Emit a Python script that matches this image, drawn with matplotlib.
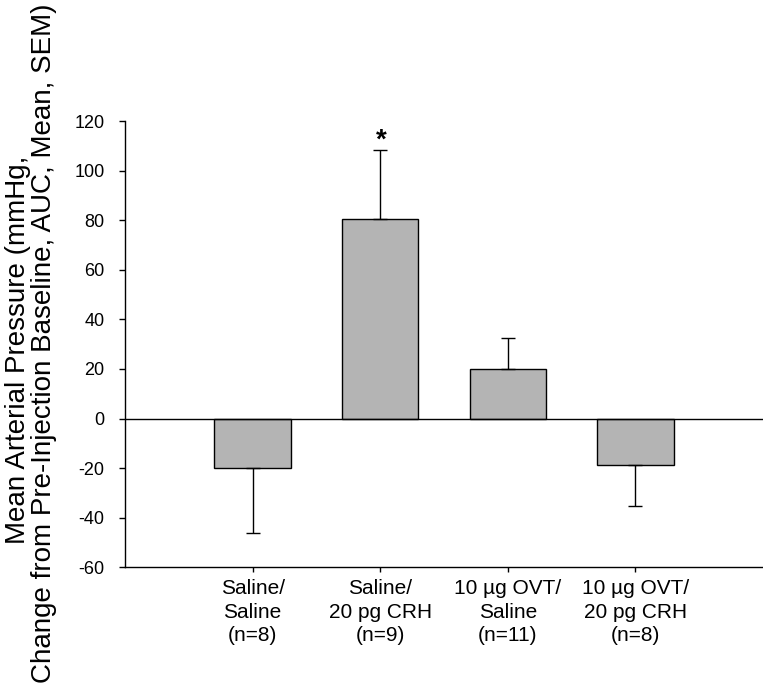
import numpy as np
import matplotlib
matplotlib.use("Agg")
import matplotlib.pyplot as plt

plt.rcParams['font.family'] = ['Liberation Sans', 'DejaVu Sans']

# Data
groups = ["Saline/\nSaline\n(n=8)", "Saline/\n20 pg CRH\n(n=9)",
          "10 \u00b5g OVT/\nSaline\n(n=11)", "10 \u00b5g OVT/\n20 pg CRH\n(n=8)"]
means = [-20.1, 80.3, 19.8, -18.8]
sems = [26.0, 28.2, 12.7, 16.4]
significant = [False, True, False, False]
yticks = [-60, -40, -20, 0, 20, 40, 60, 80, 100, 120]

x = np.arange(1, len(means) + 1)
means_arr = np.array(means)
sems_arr = np.array(sems)
# one-sided error bars: only away from zero
lower = np.where(means_arr < 0, sems_arr, 0)
upper = np.where(means_arr >= 0, sems_arr, 0)

fig = plt.figure(figsize=(7.63, 6.89), dpi=100)
ax = fig.add_axes([125 / 763, 121.7 / 689, 638 / 763, 446.3 / 689])

ax.bar(x, means, width=0.6, color='#b4b4b4', edgecolor='black', linewidth=1.0,
       yerr=[lower, upper],
       error_kw=dict(ecolor='black', elinewidth=1.0, capsize=5, capthick=1.0))
ax.axhline(0, color='black', linewidth=1.0, zorder=3)

for xi, m, s, sig in zip(x, means, sems, significant):
    if sig:
        ax.annotate('*', xy=(xi, m + s), xytext=(0.5, 1), textcoords='offset points',
                    ha='center', va='baseline', fontsize=20, fontweight='bold')

ax.set_xlim(0, 5)
ax.set_ylim(-60, 120)
ax.set_yticks(yticks)
ax.set_yticklabels([str(t) for t in yticks], fontsize=13)
ax.set_xticks(x)
ax.set_xticklabels(groups, fontsize=15, linespacing=1.3)
ax.tick_params(axis='y', direction='out', length=4.3, width=1.0, pad=10.5)
ax.tick_params(axis='x', direction='out', length=3.6, width=1.0, pad=5)

for side in ['top', 'right']:
    ax.spines[side].set_visible(False)
for side in ['left', 'bottom']:
    ax.spines[side].set_linewidth(1.0)

# two-line y label, placed line by line
fig.text(25 / 763, 1 - 350 / 689, "Mean Arterial Pressure (mmHg,", rotation=90,
         rotation_mode='anchor', ha='center', va='baseline', fontsize=20)
fig.text(51.5 / 763, 1 - 343 / 689, "Change from Pre-Injection Baseline, AUC, Mean, SEM)",
         rotation=90, rotation_mode='anchor', ha='center', va='baseline', fontsize=20)

fig.savefig("out.png", dpi=100)
